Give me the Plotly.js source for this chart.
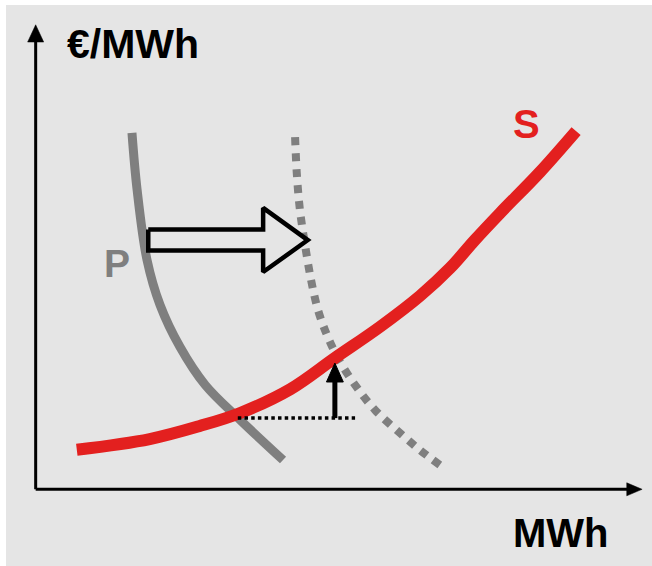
<!DOCTYPE html>
<html>
<head>
<meta charset="utf-8">
<script src="https://cdn.plot.ly/plotly-3.0.1.min.js"></script>
<style>
  html, body { margin: 0; padding: 0; background: #ffffff; width: 652px; height: 566px; overflow: hidden; }
  #chart { position: absolute; left: 6px; top: 5px; width: 646px; height: 561px; }
</style>
</head>
<body>
<div id="chart"></div>
<script>
// Supply curve S (quantity MWh, price €/MWh)
const supplyX = [6.6, 18.7, 27.0, 33.7, 42.0, 49.4, 56.9, 63.5, 68.5, 72.6, 76.8, 83.4, 89.4];
const supplyY = [8.2, 10.5, 13.3, 16.1, 21.2, 27.9, 34.6, 41.2, 47.2, 53.2, 59.0, 67.8, 76.6];

// Demand curve P (before shift)
const demandX = [15.75, 16.6, 18.25, 20.4, 23.7, 27.9, 33.7, 40.8];
const demandY = [76.2, 64.0, 48.9, 39.3, 30.3, 22.1, 14.6, 6.0];

// Demand curve after shift (dotted)
const shiftedX = [42.8, 43.1, 43.6, 44.45, 45.45, 46.6, 48.1, 49.9, 52.75, 56.05, 60.2, 63.5, 66.8];
const shiftedY = [75.3, 67.2, 59.7, 52.15, 44.65, 38.2, 32.8, 27.9, 22.1, 16.75, 11.8, 8.15, 4.95];

// Old equilibrium price level and price rise
const oldPriceX = [33.3, 52.75];
const oldPriceY = [15.0, 15.0];
const riseX = [49.4, 49.4];
const riseY = [15.0, 23.2];
const riseHeadX = [48.0, 50.8, 49.4, 48.0];
const riseHeadY = [22.75, 22.75, 26.8, 22.75];

// Hollow shift arrow
const shiftArrowX = [18.45, 37.5, 37.5, 44.9, 37.5, 37.5, 18.45, 18.45];
const shiftArrowY = [55.45, 55.45, 60.1, 53.2, 46.35, 50.95, 50.95, 55.45];

// Axes (drawn as arrows)
const axisXLineX = [-0.22, 98.0];
const axisXLineY = [-0.28, -0.28];
const axisXHeadX = [97.8, 100.35, 97.8, 97.8];
const axisXHeadY = [1.12, -0.28, -1.68, 1.12];
const axisYLineX = [-0.22, -0.22];
const axisYLineY = [-0.28, 96.0];
const axisYHeadX = [-1.55, -0.22, 1.11, -1.55];
const axisYHeadY = [95.7, 99.4, 95.7, 95.7];

// Labels
const yLabel = "€/MWh";
const xLabel = "MWh";
const demandLabel = "P";
const supplyLabel = "S";

const RED = '#e3201f';
const GREY = '#7f7f7f';
const BG = '#e5e5e5';

const traces = [
  { x: axisXLineX, y: axisXLineY, mode: 'lines', line: { color: '#000', width: 3 } },
  { x: axisYLineX, y: axisYLineY, mode: 'lines', line: { color: '#000', width: 3 } },
  { x: axisXHeadX, y: axisXHeadY, mode: 'lines', fill: 'toself', fillcolor: '#000', line: { color: '#000', width: 0.5 } },
  { x: axisYHeadX, y: axisYHeadY, mode: 'lines', fill: 'toself', fillcolor: '#000', line: { color: '#000', width: 0.5 } },
  { x: demandX, y: demandY, mode: 'lines', line: { color: GREY, width: 9, shape: 'spline', smoothing: 1 } },
  { x: shiftedX, y: shiftedY, mode: 'lines', line: { color: GREY, width: 8, dash: '8px,8px', shape: 'spline', smoothing: 1 } },
  { x: supplyX, y: supplyY, mode: 'lines', line: { color: RED, width: 12, shape: 'spline', smoothing: 1 } },
  { x: oldPriceX, y: oldPriceY, mode: 'lines', line: { color: '#000', width: 3.5, dash: '3.5px,3.2px' } },
  { x: riseX, y: riseY, mode: 'lines', line: { color: '#000', width: 5 } },
  { x: riseHeadX, y: riseHeadY, mode: 'lines', fill: 'toself', fillcolor: '#000', line: { color: '#000', width: 1 } },
  { x: shiftArrowX, y: shiftArrowY, mode: 'lines', fill: 'toself', fillcolor: BG, line: { color: '#000', width: 4.5 } }
];
traces.forEach(t => { t.hoverinfo = 'skip'; t.cliponaxis = false; });

const layout = {
  width: 646, height: 561,
  margin: { l: 0, r: 0, t: 0, b: 0, pad: 0 },
  paper_bgcolor: BG, plot_bgcolor: BG,
  showlegend: false,
  xaxis: { range: [-5.141, 101.99], visible: false, fixedrange: true },
  yaxis: { range: [-16.738, 103.648], visible: false, fixedrange: true },
  annotations: [
    { text: yLabel, x: 4.8, y: 95.2, xref: 'x', yref: 'y', xanchor: 'left', yanchor: 'middle', showarrow: false,
      font: { family: 'Liberation Sans, Arial, sans-serif', size: 41, color: '#000', weight: 'bold' }, borderpad: 0 },
    { text: xLabel, x: 78.7, y: -9.55, xref: 'x', yref: 'y', xanchor: 'left', yanchor: 'middle', showarrow: false,
      font: { family: 'Liberation Sans, Arial, sans-serif', size: 40, color: '#000', weight: 'bold' }, borderpad: 0 },
    { text: demandLabel, x: 13.2, y: 48.1, xref: 'x', yref: 'y', xanchor: 'center', yanchor: 'middle', showarrow: false,
      font: { family: 'Liberation Sans, Arial, sans-serif', size: 39, color: GREY, weight: 'bold' }, borderpad: 0 },
    { text: supplyLabel, x: 81.1, y: 78.2, xref: 'x', yref: 'y', xanchor: 'center', yanchor: 'middle', showarrow: false,
      font: { family: 'Liberation Sans, Arial, sans-serif', size: 40, color: RED, weight: 'bold' }, borderpad: 0 }
  ]
};

Plotly.newPlot('chart', traces, layout, { staticPlot: true, displayModeBar: false });
</script>
</body>
</html>
